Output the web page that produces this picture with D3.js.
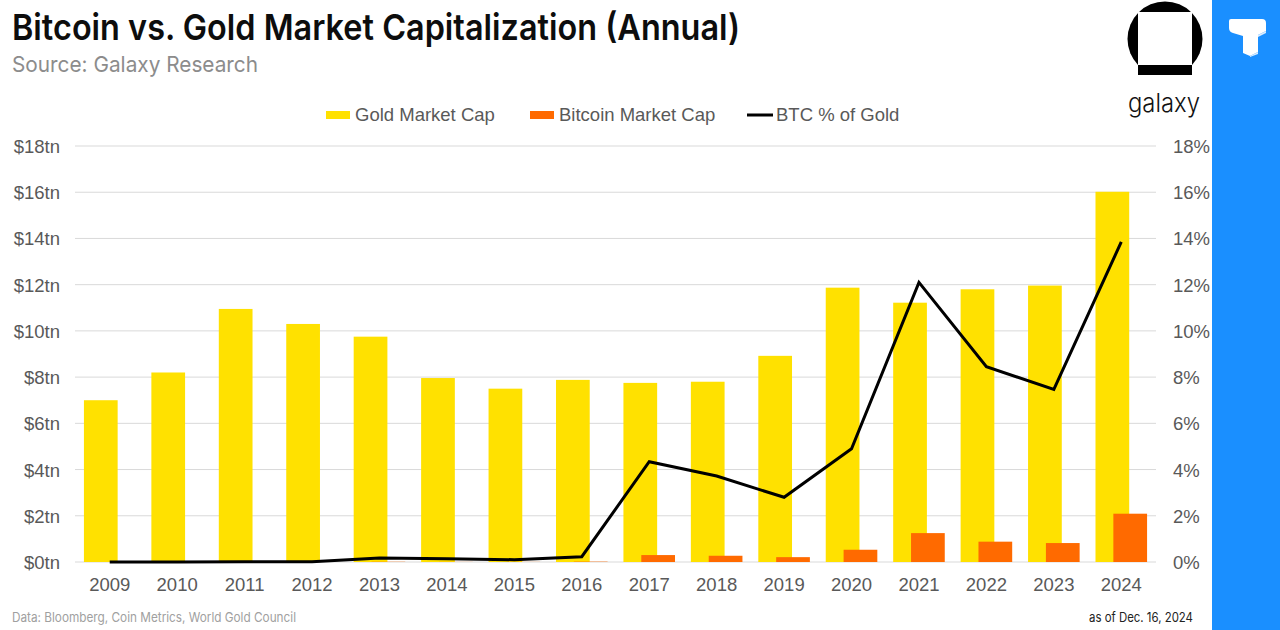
<!DOCTYPE html>
<html>
<head>
<meta charset="utf-8">
<script src="https://cdn.jsdelivr.net/npm/d3@7"></script>
<style>
  html, body { margin: 0; padding: 0; background: #fff; }
  svg { display: block; }
</style>
</head>
<body>
<svg id="chart" width="1280" height="630"></svg>
<script>
const years = ["2009","2010","2011","2012","2013","2014","2015","2016","2017","2018","2019","2020","2021","2022","2023","2024"];
const goldCap = [7.0, 8.2, 10.95, 10.3, 9.75, 7.96, 7.5, 7.88, 7.75, 7.8, 8.92, 11.87, 11.22, 11.8, 11.96, 16.02];
const btcCap = [0, 0, 0, 0, 0.01, 0.005, 0.005, 0.015, 0.3, 0.27, 0.21, 0.53, 1.25, 0.88, 0.82, 2.09];
const btcPctGold = [0, 0, 0.01, 0.01, 0.17, 0.14, 0.1, 0.23, 4.34, 3.72, 2.8, 4.9, 12.1, 8.45, 7.47, 13.85];
const leftTicks = [0, 2, 4, 6, 8, 10, 12, 14, 16, 18];
const rightTicks = [0, 2, 4, 6, 8, 10, 12, 14, 16, 18];

const svg = d3.select("#chart");
const AX = "'Liberation Sans', Arial, sans-serif";
const HEAD = "Inter, 'Noto Sans', sans-serif";

const m = { left: 76, right: 1155, top: 146, bottom: 562 };
const x = d3.scaleBand().domain(years).range([m.left, m.right]).padding(0);
const yL = d3.scaleLinear().domain([0, 18]).range([m.bottom, m.top]);
const yR = d3.scaleLinear().domain([0, 18]).range([m.bottom, m.top]);

// Blue side strip
svg.append("rect").attr("x", 1212).attr("y", 0).attr("width", 68).attr("height", 630).attr("fill", "#1a8fff");
// T icon
const tg = svg.append("g");
tg.append("path").attr("d", "M1231,19 L1262,19 Q1266,19 1266,23 L1266,31 L1258,35 L1258,52 L1250,56 L1243,53 L1243,36 L1233,33 Q1229,32 1229,28 L1229,21 Q1229,19 1231,19 Z").attr("fill", "#ffffff");
tg.append("path").attr("d", "M1258,35 L1266,31 L1266,33 L1258,37 Z M1250,56 L1258,52 L1258,54 L1250,57 Z").attr("fill", "#d9ecff");

// Title
svg.append("text").attr("x", 12).attr("y", 40)
  .attr("font-family", HEAD).attr("font-weight", 600).attr("font-size", 36)
  .attr("fill", "#0d0d0d").attr("textLength", 728).attr("lengthAdjust", "spacingAndGlyphs")
  .text("Bitcoin vs. Gold Market Capitalization (Annual)");
svg.append("text").attr("x", 12).attr("y", 72)
  .attr("font-family", HEAD).attr("font-weight", 400).attr("font-size", 22)
  .attr("fill", "#8c8c8c").attr("textLength", 246).attr("lengthAdjust", "spacingAndGlyphs")
  .text("Source: Galaxy Research");

// Galaxy logo
const lg = svg.append("g");
lg.append("clipPath").attr("id", "logoClip").append("rect").attr("x", 1120).attr("y", 0).attr("width", 90).attr("height", 65);
lg.append("circle").attr("cx", 1165).attr("cy", 39).attr("r", 37.5).attr("fill", "#000").attr("clip-path", "url(#logoClip)");
lg.append("rect").attr("x", 1138).attr("y", 12).attr("width", 54).attr("height", 53).attr("fill", "#fff");
lg.append("rect").attr("x", 1138).attr("y", 65).attr("width", 54).attr("height", 10).attr("fill", "#000");
lg.append("text").attr("x", 1164).attr("y", 112).attr("text-anchor", "middle")
  .attr("font-family", HEAD).attr("font-weight", 300).attr("font-size", 26).attr("fill", "#111")
  .attr("textLength", 72).attr("lengthAdjust", "spacingAndGlyphs").text("galaxy");

// Gridlines
svg.append("g").selectAll("line").data(leftTicks).join("line")
  .attr("x1", m.left - 1).attr("x2", m.right + 1)
  .attr("y1", d => yL(d)).attr("y2", d => yL(d))
  .attr("stroke", "#d9d9d9").attr("stroke-width", 1);

// Left axis
const leftAxis = svg.append("g").attr("transform", `translate(${m.left - 16},0)`)
  .call(d3.axisLeft(yL).tickValues(leftTicks).tickSize(0).tickPadding(0).tickFormat(d => "$" + d + "tn"));
leftAxis.select(".domain").remove();
leftAxis.selectAll("text").attr("font-family", AX).attr("font-size", 18.5).attr("fill", "#595959").attr("dy", "0.35em");

// Right axis
const rightAxis = svg.append("g").attr("transform", `translate(${m.right + 18},0)`)
  .call(d3.axisRight(yR).tickValues(rightTicks).tickSize(0).tickPadding(0).tickFormat(d => d + "%"));
rightAxis.select(".domain").remove();
rightAxis.selectAll("text").attr("font-family", AX).attr("font-size", 18.5).attr("fill", "#595959").attr("dy", "0.35em");

// Bottom axis labels
const bottomAxis = svg.append("g").attr("transform", `translate(0,${m.bottom})`)
  .call(d3.axisBottom(x).tickSize(0).tickPadding(0));
bottomAxis.select(".domain").remove();
bottomAxis.selectAll("text").attr("font-family", AX).attr("font-size", 18.5).attr("fill", "#595959").attr("dy", "0").attr("y", 29);

const bw = x.bandwidth();
const barW = bw * 0.5;
// Gold bars
svg.append("g").selectAll("rect").data(years).join("rect")
  .attr("x", (d) => x(d) + bw / 2 - barW * 0.75 - 0.5)
  .attr("width", barW)
  .attr("y", (d, i) => yL(goldCap[i]))
  .attr("height", (d, i) => yL(0) - yL(goldCap[i]))
  .attr("fill", "#ffe100");
// Bitcoin bars
svg.append("g").selectAll("rect").data(years).join("rect")
  .attr("x", (d) => x(d) + bw / 2 - barW * 0.25 + 0.5)
  .attr("width", barW)
  .attr("y", (d, i) => yL(btcCap[i]))
  .attr("height", (d, i) => yL(0) - yL(btcCap[i]))
  .attr("fill", "#ff6a00");

// Line
const line = d3.line().x((d, i) => x(years[i]) + bw / 2).y(d => yR(d));
svg.append("path").datum(btcPctGold).attr("d", line)
  .attr("fill", "none").attr("stroke", "#000").attr("stroke-width", 3).attr("stroke-linejoin", "miter");

// Legend
const legend = [
  { label: "Gold Market Cap", type: "rect", color: "#ffe100", x: 326 },
  { label: "Bitcoin Market Cap", type: "rect", color: "#ff6a00", x: 530 },
  { label: "BTC % of Gold", type: "line", color: "#000", x: 747 }
];
const lgd = svg.append("g");
legend.forEach(d => {
  if (d.type === "rect") {
    lgd.append("rect").attr("x", d.x).attr("y", 111).attr("width", 24).attr("height", 8).attr("fill", d.color);
  } else {
    lgd.append("line").attr("x1", d.x).attr("x2", d.x + 26).attr("y1", 115).attr("y2", 115).attr("stroke", d.color).attr("stroke-width", 3);
  }
  lgd.append("text").attr("x", d.x + 29).attr("y", 121)
    .attr("font-family", AX).attr("font-size", 18.5).attr("fill", "#595959").text(d.label);
});

// Footer
svg.append("text").attr("x", 12).attr("y", 622)
  .attr("font-family", HEAD).attr("font-size", 13).attr("fill", "#a0a0a0")
  .attr("textLength", 284).attr("lengthAdjust", "spacingAndGlyphs")
  .text("Data: Bloomberg, Coin Metrics, World Gold Council");
svg.append("text").attr("x", 1193).attr("y", 622).attr("text-anchor", "end")
  .attr("font-family", HEAD).attr("font-size", 13).attr("fill", "#222")
  .attr("textLength", 104).attr("lengthAdjust", "spacingAndGlyphs")
  .text("as of Dec. 16, 2024");
</script>
</body>
</html>
